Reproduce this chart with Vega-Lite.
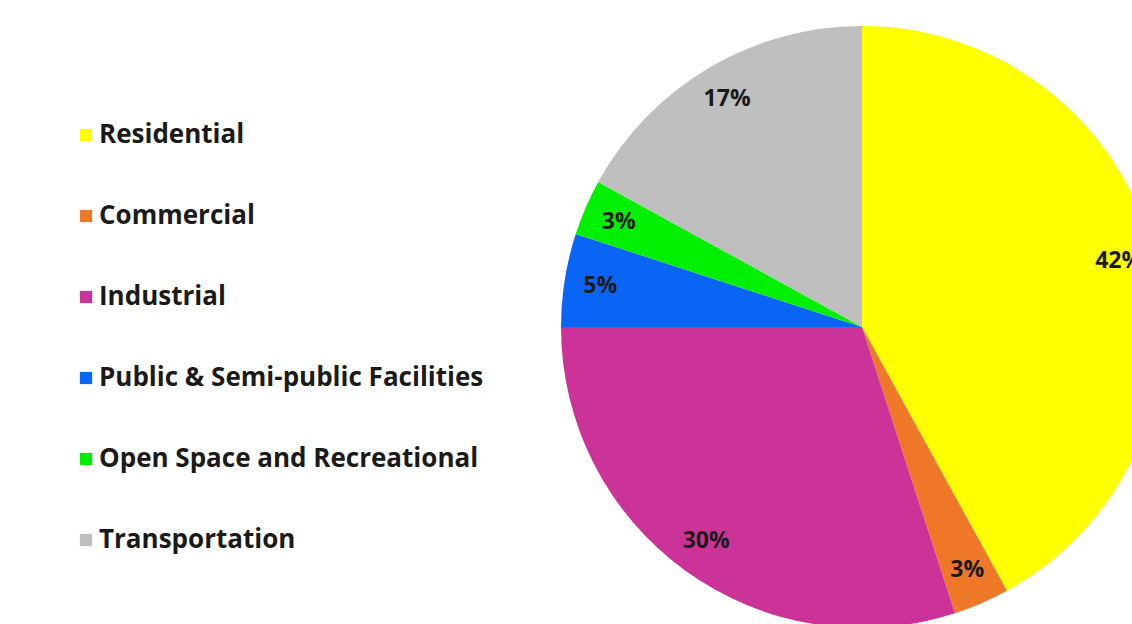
{
  "$schema": "https://vega.github.io/schema/vega-lite/v6.json",
  "autosize": {"type": "none"},
  "padding": 0,
  "width": 1724,
  "height": 654,
  "background": "white",
  "config": {"view": {"stroke": null}},
  "data": {
    "values": [
      {"category": "Residential", "share": 42, "label": "42%"},
      {"category": "Commercial", "share": 3, "label": "3%"},
      {"category": "Industrial", "share": 30, "label": "30%"},
      {"category": "Public & Semi-public  Facilities", "share": 5, "label": "5%"},
      {"category": "Open Space and Recreational", "share": 3, "label": "3%"},
      {"category": "Transportation", "share": 17, "label": "17%"}
    ]
  },
  "transform": [{"window": [{"op": "row_number", "as": "rank"}]}],
  "encoding": {
    "theta": {"field": "share", "type": "quantitative", "stack": true},
    "order": {"field": "rank", "type": "quantitative", "sort": "ascending"},
    "color": {
      "field": "category",
      "type": "nominal",
      "sort": ["Residential", "Commercial", "Industrial", "Public & Semi-public  Facilities", "Open Space and Recreational", "Transportation"],
      "scale": {
        "domain": ["Residential", "Commercial", "Industrial", "Public & Semi-public  Facilities", "Open Space and Recreational", "Transportation"],
        "range": ["#FFFF00", "#EE7828", "#CC3399", "#0A64F5", "#00F000", "#BFBFBF"]
      },
      "legend": {
        "title": null,
        "orient": "none",
        "legendX": 73,
        "legendY": 122,
        "padding": 0,
        "symbolType": "square",
        "symbolSize": 150,
        "symbolStrokeWidth": 0,
        "labelFont": "Open Sans",
        "labelFontWeight": "bold",
        "labelFontSize": 26,
        "labelColor": "#1a1a1a",
        "labelOffset": 0,
        "labelLimit": 600,
        "rowPadding": 55
      }
    }
  },
  "layer": [
    {"mark": {"type": "arc", "outerRadius": 301}},
    {
      "mark": {"type": "text", "radius": 265, "font": "Open Sans", "fontWeight": "bold", "fontSize": 23, "fill": "#1a1a1a"},
      "encoding": {"text": {"field": "label", "type": "nominal"}, "color": {"value": "#1a1a1a"}}
    }
  ]
}
